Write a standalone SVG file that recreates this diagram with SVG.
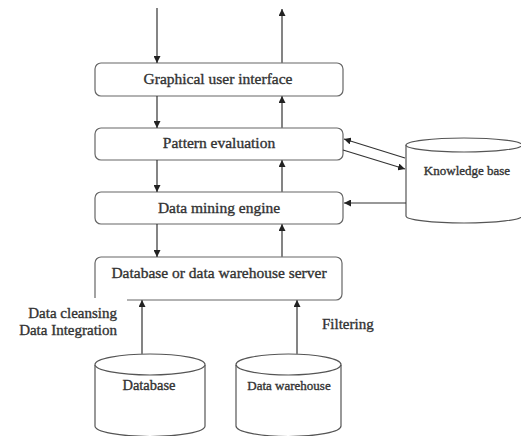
<svg xmlns="http://www.w3.org/2000/svg" width="521" height="436" viewBox="0 0 521 436">
<defs>
<marker id="ah" viewBox="0 0 10 10" refX="10" refY="5" markerWidth="7" markerHeight="7" markerUnits="userSpaceOnUse" orient="auto">
<path d="M0,0 L10,5 L0,10 z" fill="#222"/>
</marker>
</defs>
<style>
.box{fill:#fff;stroke:#666;stroke-width:1.2}
.cyl{fill:#fff;stroke:#555;stroke-width:1.2}
.t{font-family:"Liberation Serif","Times New Roman",serif;font-size:14.5px;fill:#333;stroke:#333;stroke-width:0.35;text-anchor:middle}
.tb{font-size:15.5px}
.ts{font-size:13px}
.l{font-family:"Liberation Serif","Times New Roman",serif;font-size:15px;fill:#333;stroke:#333;stroke-width:0.35}
.dn{stroke:#333;stroke-width:1.2;fill:none;marker-end:url(#ah)}
.up{stroke:#777;stroke-width:1.8;fill:none;marker-end:url(#ah)}
.kb{stroke:#333;stroke-width:1.2;fill:none;marker-end:url(#ah)}
</style>
<g id="gui">
<rect class="box" x="95" y="63" width="248" height="33" rx="6"/>
<text class="t tb" x="218" y="84">Graphical user interface</text>
</g>
<g id="pattern">
<rect class="box" x="95" y="128" width="248" height="32" rx="6"/>
<text class="t tb" x="219" y="148">Pattern evaluation</text>
</g>
<g id="engine">
<rect class="box" x="95" y="192" width="248" height="32" rx="6"/>
<text class="t tb" x="219" y="213">Data mining engine</text>
</g>
<g id="server">
<path class="box" d="M127,300 H336 A6,6 0 0 0 342,294 V263 A6,6 0 0 0 336,257 H101 A6,6 0 0 0 95,263 V298"/>
<text class="t tb" x="219" y="278">Database or data warehouse server</text>
</g>
<g id="knowledge">
<path class="cyl" d="M406,145 V216 A58,7 0 0 0 522,216 V145"/>
<ellipse class="cyl" cx="464" cy="145" rx="58" ry="7"/>
<text class="t ts" x="467" y="175">Knowledge base</text>
</g>
<g id="database">
<path class="cyl" d="M95,365 V426 A55,10.5 0 0 0 205,426 V365"/>
<ellipse class="cyl" cx="150" cy="364.5" rx="55" ry="10.5"/>
<text class="t" x="149" y="390">Database</text>
</g>
<g id="warehouse">
<path class="cyl" d="M236,365 V426 A52.5,10.5 0 0 0 341,426 V365"/>
<ellipse class="cyl" cx="288.5" cy="364.5" rx="52.5" ry="10.5"/>
<text class="t ts" x="289" y="390">Data warehouse</text>
</g>
<g id="labels">
<text class="l" x="117" y="318" text-anchor="end">Data cleansing</text>
<text class="l" x="117" y="335" text-anchor="end">Data Integration</text>
<text class="l" x="322" y="329">Filtering</text>
</g>
<g id="connectors">
<line class="dn" x1="157" y1="8" x2="157" y2="63"/>
<line class="up" x1="282" y1="63" x2="282" y2="9"/>
<line class="dn" x1="157" y1="96" x2="157" y2="128"/>
<line class="up" x1="282" y1="128" x2="282" y2="96"/>
<line class="dn" x1="157" y1="160" x2="157" y2="192"/>
<line class="up" x1="282" y1="192" x2="282" y2="160"/>
<line class="dn" x1="157" y1="224" x2="157" y2="257"/>
<line class="up" x1="282" y1="257" x2="282" y2="224"/>
<line class="up" x1="142" y1="354" x2="142" y2="300"/>
<line class="up" x1="297" y1="354" x2="297" y2="300"/>
<line class="kb" x1="405" y1="158" x2="344" y2="139"/>
<line class="kb" x1="343" y1="150" x2="405" y2="169"/>
<line class="kb" x1="406" y1="203" x2="344" y2="203"/>
</g>
</svg>
